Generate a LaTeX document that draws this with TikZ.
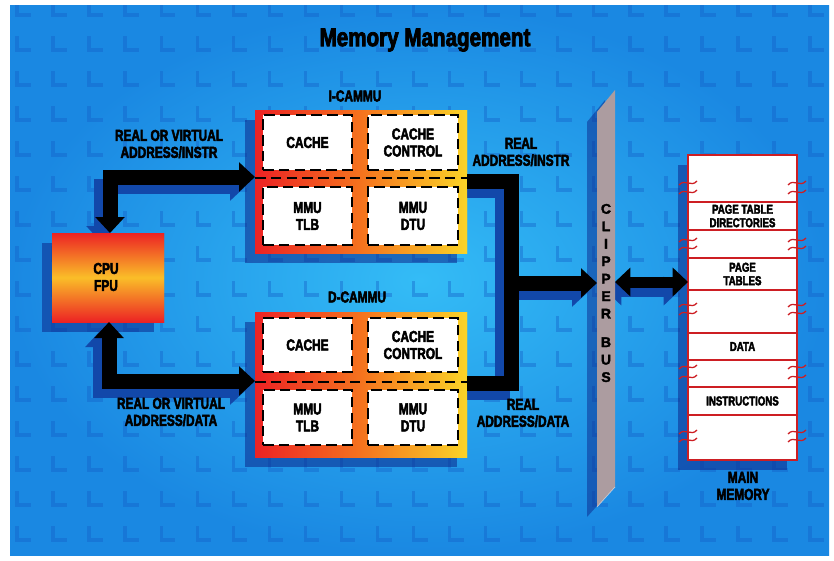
\documentclass[tikz,border=0pt]{standalone}
\usepackage{fontspec}
\setmainfont{Liberation Sans}
\newfontfamily\cond[FakeStretch=0.75,FakeBold=3]{Liberation Sans Bold}
\newfontfamily\condt[FakeStretch=0.8,FakeBold=3]{Liberation Sans Bold}
\newfontfamily\busfont[FakeBold=2]{Liberation Sans Bold}
\usetikzlibrary{arrows.meta,shadows}
\definecolor{bgin}{RGB}{52,188,246}
\definecolor{bgout}{RGB}{26,136,226}
\definecolor{lmark}{RGB}{20,95,200}
\definecolor{shblue}{RGB}{12,40,140}
\definecolor{arrsh}{RGB}{18,72,170}
\definecolor{hred}{RGB}{236,34,36}
\definecolor{horange}{RGB}{245,115,30}
\definecolor{hyellow}{RGB}{250,212,40}
\definecolor{cpuyel}{RGB}{250,190,40}
\definecolor{busgray}{RGB}{172,156,160}
\definecolor{memred}{RGB}{205,30,35}
\begin{document}
\begin{tikzpicture}[x=0.03cm,y=-0.03cm,
 sz/.style 2 args={minimum width=#1*0.03cm, minimum height=#2*0.03cm, inner sep=0pt, outer sep=0pt},
 lbl/.style={font=\cond\fontsize{13.5}{14.5}\selectfont, align=center, inner sep=0pt, text=black},
 memlbl/.style={font=\cond\fontsize{11}{11.5}\selectfont, align=center, inner sep=0pt, text=black},
 shad/.style={drop shadow={shadow xshift=-0.3cm, shadow yshift=-0.3cm, fill=shblue, opacity=0.55}},
 cammu/.style={draw=none, left color=hred, right color=hyellow, middle color=horange, shad},
 cell/.style={fill=white, draw=black, line width=2.4pt, dash pattern=on 9pt off 4.5pt, lbl},
 dashline/.style={draw=black, line width=2.4pt, dash pattern=on 9pt off 4.5pt},
 fat/.style={draw=black, line width=0.45cm, line join=miter,
   >={Triangle[length=0.48cm,width=0.86cm]}},
 thin/.style={draw=black, line width=0.33cm, line join=miter,
   >={Triangle[length=0.46cm,width=0.84cm]}},
 sh/.style={draw=arrsh}
]
% background
\fill[white] (0,0) rectangle (834,561);
\begin{scope}
\clip (10,5) rectangle (829,555);
\shade[inner color=bgin, outer color=bgout] (10,5) rectangle (829,555);
\foreach \i in {0,...,22}{\foreach \j in {0,...,15}{
  \draw[lmark, opacity=0.4, line width=1mm] ({17+36.05*\i},{15+35*\j-14}) -- ({17+36.05*\i},{15+35*\j}) -- ({31+36.05*\i},{15+35*\j});
}}
\end{scope}

% title
\node[font=\condt\fontsize{22}{24}\selectfont, inner sep=0pt] (title) at (425,40) {Memory Management};

% CPU
\node[sz={112}{89}, top color=hred, bottom color=hred, middle color=cpuyel, shad] (cpu) at (108,277.5) {};

% I-CAMMU / D-CAMMU
\node[lbl] (ilbl) at (355,96) {I-CAMMU};
\node[sz={212}{143}, cammu] (icammu) at (361,181.5) {};
\node[lbl] (dlbl) at (357,297) {D-CAMMU};
\node[sz={212}{145}, cammu] (dcammu) at (361,384.5) {};

% bus
\fill[shblue, opacity=0.5] (587,122) -- (605,100) -- (605,497) -- (587,517) -- cycle;
\node[sz={18}{417}] (bus) at (606,298.5) {};

% memory
\node[sz={109}{305}, fill=white, draw=memred, line width=1.6pt, shad] (mem) at (742.5,307.5) {};

% connector coordinates
\coordinate (c1) at (110,177);
\coordinate (c2) at (109,381);
\coordinate (r1) at (511,181);
\coordinate (r2) at (511,383);
\coordinate (r3) at (511,283);
\coordinate (m1) at (650,282);

% connector shadows
\begin{scope}[transform canvas={shift={(-9,9)}}]
\draw[fat, sh, <->] (cpu.north -| c1) |- (icammu.west |- c1);
\draw[fat, sh, <->] (cpu.south -| c2) |- (dcammu.west |- c2);
\draw[fat, sh] (icammu.east |- r1) -- (r1) -- (r2) -- (dcammu.east |- r2);
\draw[fat, sh, ->] (r3) -- (bus.west |- r3);
\draw[thin, sh, <->] (bus.east |- m1) -- (mem.west |- m1);
\end{scope}

% redraw boxes over shadows
\node[sz={112}{89}, top color=hred, bottom color=hred, middle color=cpuyel] (cpu2) at (cpu) {};
\node[lbl] (cpulbl) at (106,277) {CPU\\FPU};
\node[sz={212}{143}, left color=hred, right color=hyellow, middle color=horange] (icammu2) at (icammu) {};
\node[sz={212}{145}, left color=hred, right color=hyellow, middle color=horange] (dcammu2) at (dcammu) {};
\fill[busgray] (597,112) -- (615,90) -- (615,487) -- (597,507) -- cycle;
\draw[white, opacity=0.5, line width=0.6pt] (615,487) -- (597,507);
\node[sz={109}{305}, fill=white, draw=memred, line width=1.6pt] (mem2) at (mem) {};

% CAMMU cells
\draw[dashline] (255,178) -- (467,178);
\node[cell, sz={89}{55}] (icache) at (307.5,142.5) {CACHE};
\node[cell, sz={90}{55}] (icc) at (413,142.5) {CACHE\\CONTROL};
\node[cell, sz={89}{58}] (itlb) at (307.5,216) {MMU\\TLB};
\node[cell, sz={90}{58}] (idtu) at (413,216) {MMU\\DTU};
\draw[dashline] (255,382) -- (467,382);
\node[cell, sz={89}{54}] (dcache) at (307.5,345) {CACHE};
\node[cell, sz={90}{54}] (dcc) at (413,345) {CACHE\\CONTROL};
\node[cell, sz={89}{55}] (dtlb) at (307.5,417.5) {MMU\\TLB};
\node[cell, sz={90}{55}] (ddtu) at (413,417.5) {MMU\\DTU};

% bus letters
\node[font=\busfont\fontsize{12}{14.9}\selectfont, align=center, inner sep=0pt] (buslbl) at (606,293)
  {C\\L\\I\\P\\P\\E\\R\\[9.5pt]B\\U\\S};

% memory contents
\foreach \y in {202,230,258,290,333,360,387,415}
  \draw[memred, line width=1.4pt] (688,\y) -- (797,\y);
\foreach \y in {183,192,240,248,305,313,367,377,432,440}{
  \foreach \x in {688,797}{
    \draw[memred, line width=1.1pt] ({\x-9},{\y+2}) .. controls ({\x-3},{\y-5}) and ({\x+3},{\y+5}) .. ({\x+9},{\y-2});
  }}
\node[memlbl] (ptd) at (742.5,216) {PAGE TABLE\\DIRECTORIES};
\node[memlbl] (pt) at (742.5,274) {PAGE\\TABLES};
\node[memlbl] (data) at (742.5,346.5) {DATA};
\node[memlbl] (instr) at (742.5,401) {INSTRUCTIONS};
\node[lbl] (mainmem) at (743,486) {MAIN\\MEMORY};

% connectors
\draw[fat, <->] (cpu.north -| c1) |- (icammu.west |- c1);
\draw[fat, <->] (cpu.south -| c2) |- (dcammu.west |- c2);
\draw[fat] (icammu.east |- r1) -- (r1) -- (r2) -- (dcammu.east |- r2);
\draw[fat, ->] (r3) -- (bus.west |- r3);
\draw[thin, <->] (bus.east |- m1) -- (mem.west |- m1);

% labels
\node[lbl] (l1) at (169,144) {REAL OR VIRTUAL\\ADDRESS/INSTR};
\node[lbl] (l2) at (171,412) {REAL OR VIRTUAL\\ADDRESS/DATA};
\node[lbl] (l3) at (521,152) {REAL\\ADDRESS/INSTR};
\node[lbl] (l4) at (523,413) {REAL\\ADDRESS/DATA};
\end{tikzpicture}
\end{document}
